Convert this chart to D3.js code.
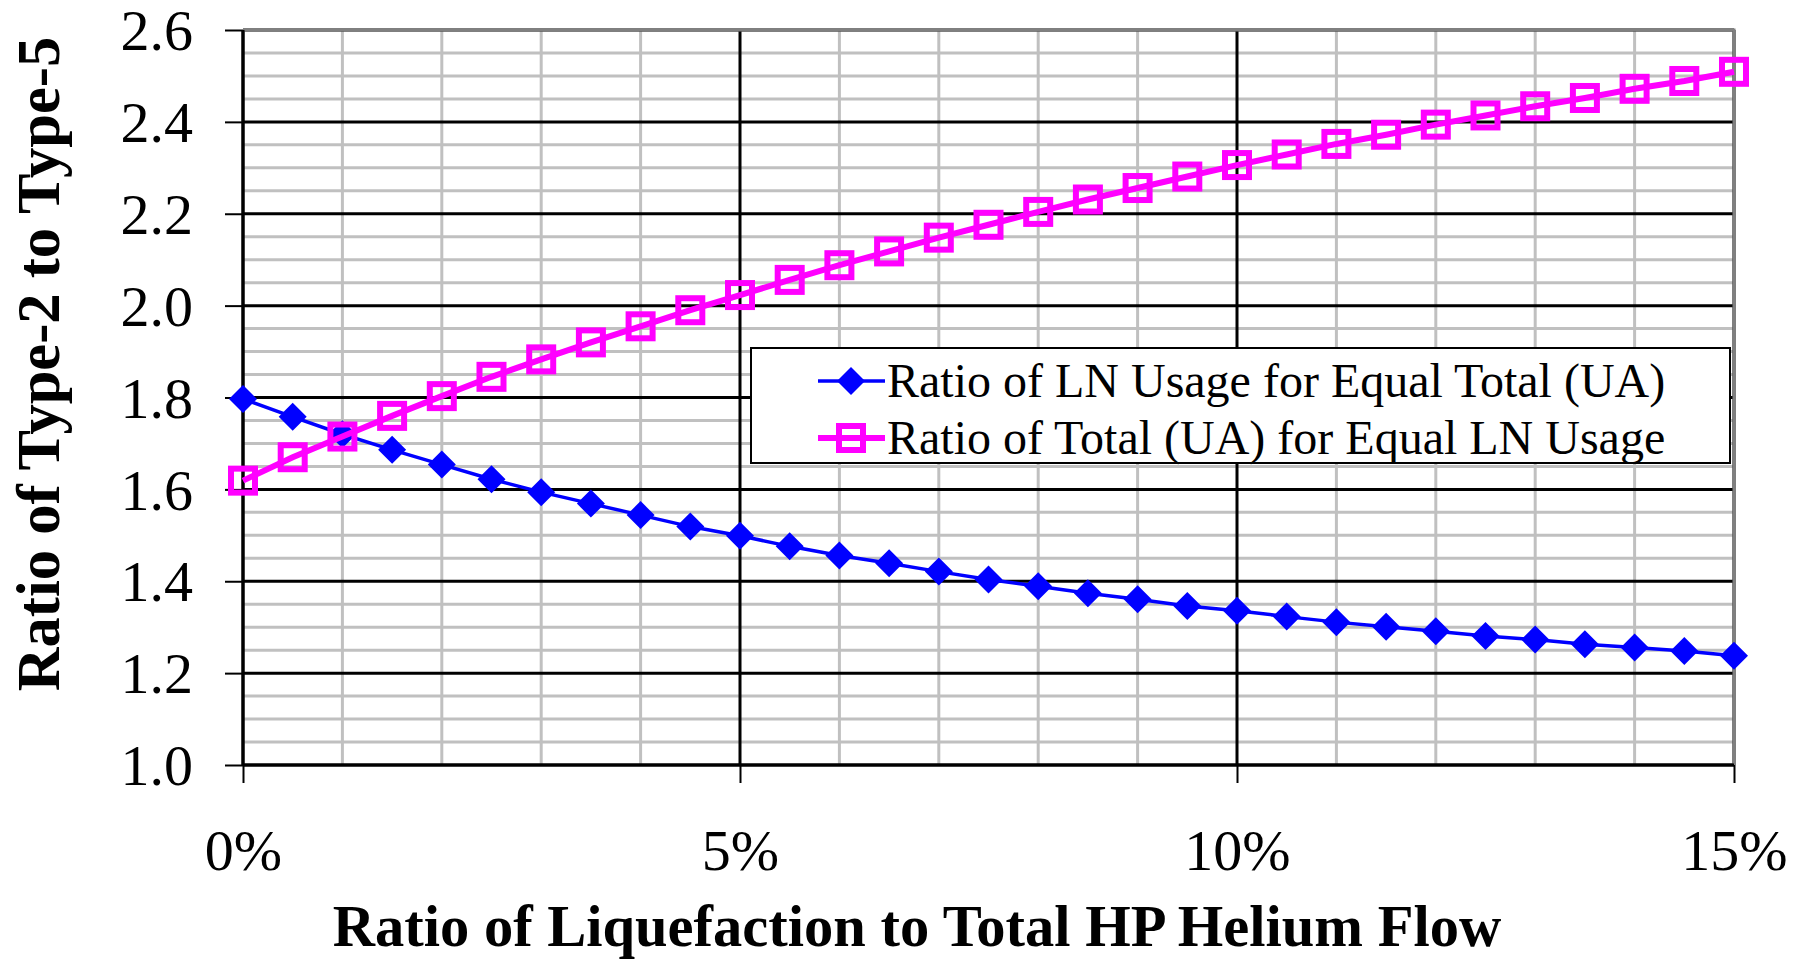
<!DOCTYPE html>
<html>
<head>
<meta charset="utf-8">
<script src="https://cdn.jsdelivr.net/npm/d3@7"></script>
<style>
  body { margin: 0; background: #fff; }
  svg { display: block; }
  text { font-family: "Liberation Serif", "Times New Roman", serif; fill: #000; }
</style>
</head>
<body>
<svg width="1806" height="961"></svg>
<script>
"use strict";

// liquefaction ratio (fraction of total HP helium flow)
var xValues = [0, 0.005, 0.01, 0.015, 0.02, 0.025, 0.03, 0.035, 0.04, 0.045,
  0.05, 0.055, 0.06, 0.065, 0.07, 0.075, 0.08, 0.085, 0.09, 0.095,
  0.10, 0.105, 0.11, 0.115, 0.12, 0.125, 0.13, 0.135, 0.14, 0.145, 0.15];

// Ratio of LN Usage for Equal Total (UA)
var lnRatio = [1.797, 1.758, 1.720, 1.686, 1.654, 1.622, 1.594, 1.569, 1.544, 1.519,
  1.499, 1.476, 1.456, 1.439, 1.421, 1.404, 1.389, 1.374, 1.361, 1.346,
  1.336, 1.323, 1.311, 1.301, 1.291, 1.281, 1.273, 1.263, 1.256, 1.248, 1.238];

// Ratio of Total (UA) for Equal LN Usage
var uaRatio = [1.619, 1.670, 1.715, 1.760, 1.803, 1.845, 1.883, 1.920, 1.955, 1.990,
  2.023, 2.056, 2.088, 2.118, 2.148, 2.176, 2.204, 2.231, 2.256, 2.281,
  2.306, 2.329, 2.352, 2.372, 2.394, 2.414, 2.434, 2.452, 2.472, 2.489, 2.509];

var seriesNames = ["Ratio of LN Usage for Equal Total (UA)", "Ratio of Total (UA) for Equal LN Usage"];

var xMajorTicks = [0, 0.05, 0.10, 0.15];
var xMinorTicks = [0.01, 0.02, 0.03, 0.04, 0.06, 0.07, 0.08, 0.09, 0.11, 0.12, 0.13, 0.14];
var yMajorTicks = [1.0, 1.2, 1.4, 1.6, 1.8, 2.0, 2.2, 2.4, 2.6];
var yMinorTicks = [1.05, 1.1, 1.15, 1.25, 1.3, 1.35, 1.45, 1.5, 1.55, 1.65, 1.7, 1.75,
  1.85, 1.9, 1.95, 2.05, 2.1, 2.15, 2.25, 2.3, 2.35, 2.45, 2.5, 2.55];

function draw_chart() {
  var svg = d3.select("svg"),
    left = 243, right = 1734, plotTop = 30, bottom = 765;

  var x = d3.scaleLinear().domain([0, 0.15]).range([left, right]);
  var y = d3.scaleLinear().domain([1.0, 2.6]).range([bottom, plotTop]);

  function hLines(g, data, color) {
    g.selectAll(null).data(data).enter().append("line")
      .attr("x1", left).attr("x2", right)
      .attr("y1", function (d) { return y(d); }).attr("y2", function (d) { return y(d); })
      .attr("stroke", color).attr("stroke-width", 3);
  }
  function vLines(g, data, color) {
    g.selectAll(null).data(data).enter().append("line")
      .attr("y1", plotTop).attr("y2", bottom)
      .attr("x1", function (d) { return x(d); }).attr("x2", function (d) { return x(d); })
      .attr("stroke", color).attr("stroke-width", 3);
  }

  // grid: minor then major
  var grid = svg.append("g");
  hLines(grid, yMinorTicks, "#c0c0c0");
  vLines(grid, xMinorTicks, "#c0c0c0");
  hLines(grid, yMajorTicks, "#000");
  vLines(grid, xMajorTicks, "#000");

  // plot area border (top / right in gray)
  svg.append("path")
    .attr("d", "M" + left + "," + plotTop + "H" + right + "V" + bottom)
    .attr("fill", "none").attr("stroke", "#808080").attr("stroke-width", 3);

  // axes
  var yAxis = d3.axisLeft(y).tickValues(yMajorTicks).tickSize(18).tickPadding(32)
    .tickFormat(d3.format(".1f"));
  var xAxis = d3.axisBottom(x).tickValues(xMajorTicks).tickSize(18).tickPadding(46)
    .tickFormat(d3.format(".0%"));

  var gy = svg.append("g").attr("transform", "translate(" + left + ",0)").call(yAxis);
  var gx = svg.append("g").attr("transform", "translate(0," + bottom + ")").call(xAxis);
  [gy, gx].forEach(function (g) {
    g.select(".domain").attr("stroke", "#000").attr("stroke-width", 3);
    g.selectAll(".tick line").attr("stroke", "#000").attr("stroke-width", 2);
    g.selectAll(".tick text")
      .attr("font-family", "Liberation Serif, Times New Roman, serif")
      .attr("font-size", 58).attr("fill", "#000");
  });
  gy.select(".domain").attr("d", "M0," + plotTop + "V" + bottom);
  gx.select(".domain").attr("d", "M" + left + ",0H" + right);
  gy.selectAll(".tick text").attr("dy", "0.34em");

  // series
  var line = d3.line()
    .x(function (d, i) { return x(xValues[i]); })
    .y(function (d) { return y(d); });

  svg.append("path").datum(lnRatio)
    .attr("d", line).attr("fill", "none")
    .attr("stroke", "#0000ff").attr("stroke-width", 3.5);

  svg.append("g").selectAll("path").data(lnRatio).enter().append("path")
    .attr("d", "M0,-14L14,0L0,14L-14,0Z")
    .attr("transform", function (d, i) { return "translate(" + x(xValues[i]) + "," + y(d) + ")"; })
    .attr("fill", "#0000ff");

  svg.append("path").datum(uaRatio)
    .attr("d", line).attr("fill", "none")
    .attr("stroke", "#ff00ff").attr("stroke-width", 6);

  svg.append("g").selectAll("rect").data(uaRatio).enter().append("rect")
    .attr("x", function (d, i) { return x(xValues[i]) - 12; })
    .attr("y", function (d) { return y(d) - 12; })
    .attr("width", 24).attr("height", 24)
    .attr("fill", "none").attr("stroke", "#ff00ff").attr("stroke-width", 6);

  // legend
  var legend = svg.append("g");
  legend.append("rect")
    .attr("x", 751).attr("y", 348).attr("width", 979).attr("height", 115)
    .attr("fill", "#fff").attr("stroke", "#000").attr("stroke-width", 2);

  var rows = legend.selectAll(".row").data(seriesNames).enter().append("g")
    .attr("transform", function (d, i) { return "translate(0," + (381 + i * 57) + ")"; });

  rows.append("line")
    .attr("x1", 818).attr("x2", 885).attr("y1", 0).attr("y2", 0)
    .attr("stroke", function (d, i) { return i === 0 ? "#0000ff" : "#ff00ff"; })
    .attr("stroke-width", function (d, i) { return i === 0 ? 3.5 : 6; });

  rows.filter(function (d, i) { return i === 0; }).append("path")
    .attr("d", "M851,-14L865,0L851,14L837,0Z").attr("fill", "#0000ff");
  rows.filter(function (d, i) { return i === 1; }).append("rect")
    .attr("x", 839).attr("y", -12).attr("width", 24).attr("height", 24)
    .attr("fill", "none").attr("stroke", "#ff00ff").attr("stroke-width", 6);

  rows.append("text")
    .attr("x", 887).attr("dy", "0.34em")
    .attr("font-size", 48)
    .text(function (d) { return d; });

  // axis titles
  svg.append("text")
    .attr("x", 917).attr("y", 946)
    .attr("text-anchor", "middle")
    .attr("font-size", 58.5).attr("font-weight", "bold")
    .text("Ratio of Liquefaction to Total HP Helium Flow");

  svg.append("text")
    .attr("transform", "translate(59,364) rotate(-90)")
    .attr("text-anchor", "middle")
    .attr("font-size", 60.5).attr("font-weight", "bold")
    .text("Ratio of Type-2 to Type-5");
}

draw_chart();
</script>
</body>
</html>
